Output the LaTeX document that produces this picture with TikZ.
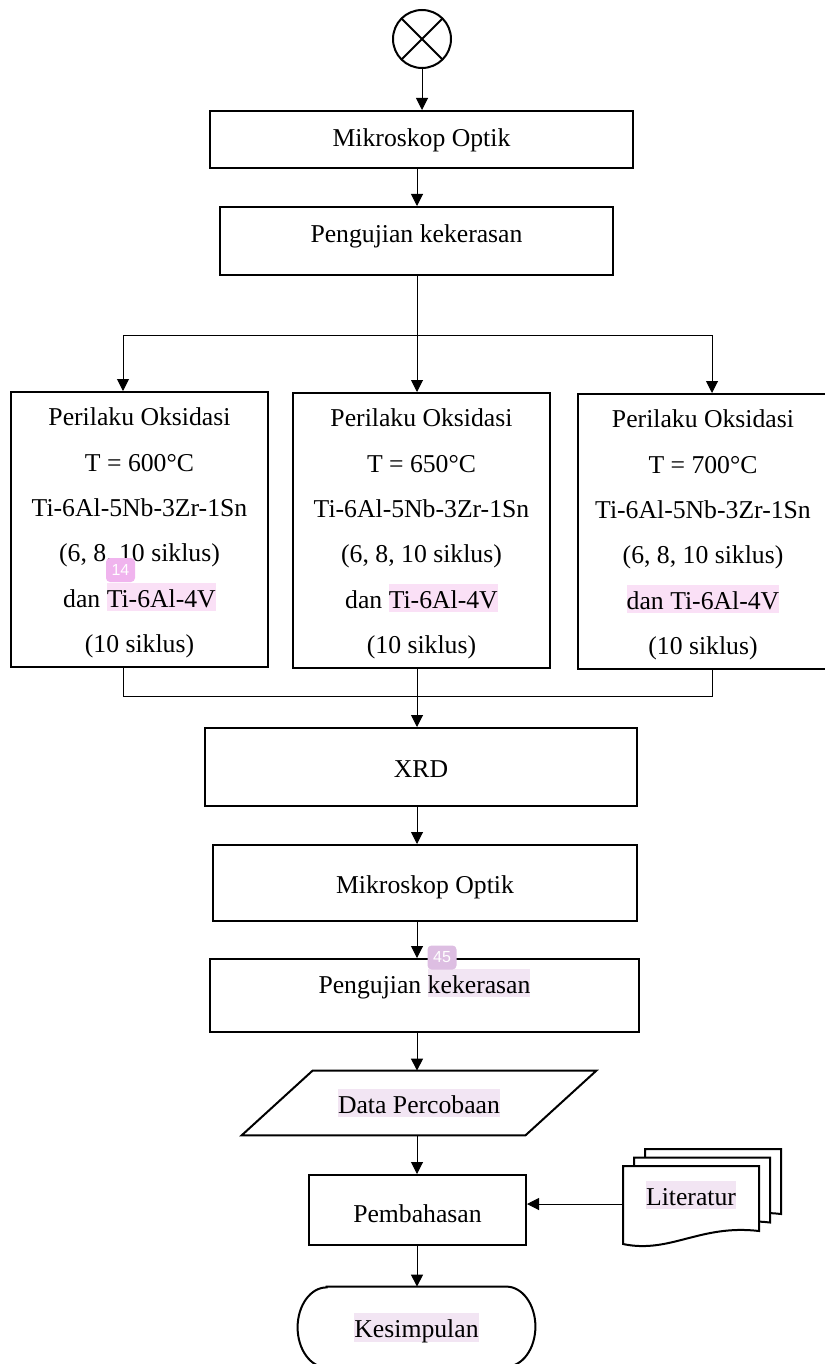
\documentclass[tikz,border=0pt]{standalone}
\usepackage{fontspec}
\setmainfont{Liberation Serif}
\setsansfont{Liberation Sans}
\usetikzlibrary{arrows.meta}
\definecolor{hlpink}{RGB}{250,224,246}
\definecolor{hlsoft}{RGB}{242,229,243}
\definecolor{tagpink}{RGB}{240,180,238}
\definecolor{taglilac}{RGB}{221,190,226}
\newcommand\hilite[2][hlpink]{{\setlength\fboxsep{0pt}\colorbox{#1}{\rule[-2pt]{0pt}{14pt}#2}}}
\newcommand\toprule{\rule{0pt}{12.5pt}}
\tikzset{
	box/.style={draw, line width=1pt, inner sep=0pt},
	vpos/.style 2 args={text height=#1, text depth=#2},
	oks/.style={box, align=center, minimum width=128.5pt, minimum height=137.5pt},
	link/.style={draw=black, line width=0.5pt},
	arr/.style={link, -{Triangle[length=6pt, width=6pt]}},
	tag/.style={rounded corners=2pt, inner sep=0pt, minimum width=14.5pt, minimum height=12pt, text=white, font=\sffamily\fontsize{8}{8}\selectfont}
}
\begin{document}
\begin{tikzpicture}[x=0.5pt, y=-0.5pt, font=\fontsize{12.85}{22.7}\selectfont]
	\useasboundingbox (0,0) rectangle (824,1364);
	\node[draw, circle, line width=1pt, minimum size=29pt, inner sep=0pt, path picture={\draw[line width=1pt] (path picture bounding box.north west) -- (path picture bounding box.south east) (path picture bounding box.north east) -- (path picture bounding box.south west);}] (start) at (422,39) {};
	\node[box, vpos={9pt}{1.5pt}, minimum width=211.5pt, minimum height=28.5pt] (optik1) at (421.5,139.5) {Mikroskop Optik};
	\node[box, vpos={9pt}{7.5pt}, minimum width=196.5pt, minimum height=34pt] (uji1) at (416.5,241) {Pengujian kekerasan};
	\node[oks] (oks1) at (139.5,529.5) {\toprule Perilaku Oksidasi\\T = 600°C\\Ti-6Al-5Nb-3Zr-1Sn\\(6, 8, 10 siklus)\\dan \hilite{Ti-6Al-4V}\\(10 siklus)};
	\node[oks] (oks2) at (421.5,530.5) {\toprule Perilaku Oksidasi\\T = 650°C\\Ti-6Al-5Nb-3Zr-1Sn\\(6, 8, 10 siklus)\\dan \hilite{Ti-6Al-4V}\\(10 siklus)};
	\node[oks, minimum width=125pt] (oks3) at (703,531.5) {\toprule Perilaku Oksidasi\\T = 700°C\\Ti-6Al-5Nb-3Zr-1Sn\\(6, 8, 10 siklus)\\\hilite{dan Ti-6Al-4V}\\(10 siklus)};
	\node[box, vpos={11pt}{1pt}, minimum width=216pt, minimum height=39pt] (xrd) at (421,767) {XRD};
	\node[box, vpos={11pt}{1pt}, minimum width=212pt, minimum height=38pt] (optik2) at (425,883) {Mikroskop Optik};
	\node[box, vpos={9pt}{11.5pt}, minimum width=214.5pt, minimum height=36.5pt] (uji2) at (424.5,995.5) {Pengujian \hilite[hlsoft]{kekerasan}};
	\node[inner sep=0pt, vpos={11pt}{1pt}, minimum width=141.5pt, minimum height=32pt] (data) at (419,1103) {\hilite[hlsoft]{Data Percobaan}};
	\draw[line width=1pt] ([xshift=17.75pt]data.north west) -- ([xshift=17.75pt]data.north east) -- ([xshift=-17.75pt]data.south east) -- ([xshift=-17.75pt]data.south west) -- cycle;
	\node[box, vpos={12pt}{0pt}, minimum width=108.5pt, minimum height=35pt] (bahas) at (417.5,1210) {Pembahasan};
	\foreach \k in {2,1,0}
		\draw[line width=1pt, fill=white, shift={(11*\k,-8.5*\k)}] (623,1166) -- (759,1166) -- (759,1231) .. controls (700,1224) and (670,1254) .. (623,1244) -- cycle;
	\node[inner sep=0pt, vpos={9pt}{8pt}, minimum width=68pt, minimum height=38pt] (lit) at (691,1204) {\hilite[hlsoft]{Literatur}};
	\node[inner sep=0pt, vpos={11pt}{1pt}, minimum width=118.5pt, minimum height=40pt] (simpul) at (416.5,1327) {\hilite[hlsoft]{Kesimpulan}};
	\draw[line width=1pt] ([xshift=14.5pt]simpul.north west) -- ([xshift=-14.5pt]simpul.north east) arc[start angle=90, end angle=-90, x radius=14.5pt, y radius=20pt] -- ([xshift=14.5pt]simpul.south west) arc[start angle=270, end angle=90, x radius=14.5pt, y radius=20pt] -- cycle;
	\coordinate (fork) at (417,335);
	\coordinate (forkL) at (123,335);
	\coordinate (forkR) at (712,335);
	\coordinate (joinL) at (123,696);
	\coordinate (joinR) at (712,696);
	\draw[arr] (start) -- (start |- optik1.north);
	\draw[arr] (optik1.south -| fork) -- (fork |- uji1.north);
	\draw[link] (fork |- uji1.south) -- (fork);
	\draw[link] (forkL) -- (forkR);
	\draw[arr] (forkL) -- (forkL |- oks1.north);
	\draw[arr] (fork) -- (fork |- oks2.north);
	\draw[arr] (forkR) -- (forkR |- oks3.north);
	\draw[link] (joinL |- oks1.south) -- (joinL) -- (joinR) -- (joinR |- oks3.south);
	\draw[arr] (fork |- oks2.south) -- (fork |- xrd.north);
	\draw[arr] (fork |- xrd.south) -- (fork |- optik2.north);
	\draw[arr] (fork |- optik2.south) -- (fork |- uji2.north);
	\draw[arr] (fork |- uji2.south) -- (fork |- data.north);
	\draw[arr] (fork |- data.south) -- (fork |- bahas.north);
	\draw[arr] (fork |- bahas.south) -- (fork |- simpul.north);
	\draw[arr] (lit.west) -- (lit.west -| bahas.east);
	\node[tag, fill=tagpink] (tag14) at (120.5,570) {14};
	\node[tag, fill=taglilac] (tag45) at (442,957.5) {45};
\end{tikzpicture}
\end{document}
